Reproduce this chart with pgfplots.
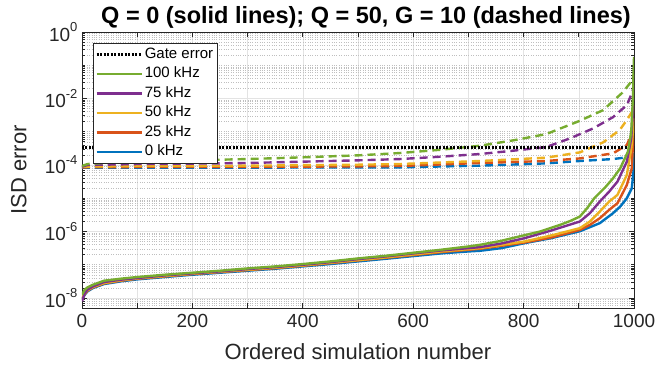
\documentclass[border=0pt]{standalone}
\usepackage{fontspec}
\setmainfont{Liberation Sans}
\usepackage{pgfplots}
\pgfplotsset{compat=1.18}
\definecolor{mblue}{rgb}{0,0.447,0.741}
\definecolor{morange}{rgb}{0.85,0.325,0.098}
\definecolor{myellow}{rgb}{0.929,0.694,0.125}
\definecolor{mpurple}{rgb}{0.494,0.184,0.556}
\definecolor{mgreen}{rgb}{0.466,0.674,0.188}
\definecolor{mtext}{rgb}{0.15,0.15,0.15}
\newcommand{\sci}[1]{10\raisebox{0.48em}{\fontsize{13}{13}\selectfont #1}}
\begin{document}
\begin{tikzpicture}
\begin{axis}[
  name=ax,
  scale only axis,
  width=552pt, height=276pt,
  xmin=0, xmax=1000,
  ymode=log, ymin=5e-9, ymax=1,
  xtick={0,100,...,1000},
  xticklabels={0,,200,,400,,600,,800,,1000},
  ytick={1e-8,1e-6,1e-4,1e-2,1},
  yticklabels={\sci{-8},\sci{-6},\sci{-4},\sci{-2},\sci{0}},
  minor ytick={6e-9,7e-9,8e-9,9e-9,
    2e-8,3e-8,4e-8,5e-8,6e-8,7e-8,8e-8,9e-8,1e-7,2e-7,3e-7,4e-7,5e-7,6e-7,7e-7,8e-7,9e-7,
    2e-6,3e-6,4e-6,5e-6,6e-6,7e-6,8e-6,9e-6,1e-5,2e-5,3e-5,4e-5,5e-5,6e-5,7e-5,8e-5,9e-5,
    2e-4,3e-4,4e-4,5e-4,6e-4,7e-4,8e-4,9e-4,1e-3,2e-3,3e-3,4e-3,5e-3,6e-3,7e-3,8e-3,9e-3,
    2e-2,3e-2,4e-2,5e-2,6e-2,7e-2,8e-2,9e-2,1e-1,2e-1,3e-1,4e-1,5e-1,6e-1,7e-1,8e-1,9e-1},
  grid=both,
  major grid style={gray!22, line width=0.6pt},
  minor grid style={gray!50, dotted, line width=0.5pt},
  axis line style={mtext, line width=0.8pt},
  every tick/.style={mtext, line width=0.8pt},
  major tick length=5pt, minor tick length=3pt,
  tick align=inside,
  tick label style={font=\fontsize{19}{19}\selectfont, text=mtext},
  xticklabel style={yshift=-3pt},
  yticklabel style={xshift=-1pt},
  xlabel={Ordered simulation number},
  ylabel={ISD error},
  label style={font=\fontsize{22}{22}\selectfont, text=mtext},
  xlabel style={at={(0.5,0)}, anchor=north, yshift=-32pt},
  ylabel style={at={(0,0.5)}, anchor=south, yshift=52pt},
  title={Q = 0 (solid lines); Q = 50, G = 10 (dashed lines)},
  title style={at={(0.5,1)}, anchor=south, inner sep=0pt, yshift=-3pt, xshift=8pt, font=\bfseries\fontsize{23.5}{23.5}\selectfont, text=black},
  legend image code/.code={\draw[#1] (0pt,0pt) -- (45pt,0pt);},
  legend cell align=left,
  legend style={at={(0,1)}, anchor=north west, xshift=11pt, yshift=-11pt,
    draw=mtext, line width=0.8pt, fill=white,
    font=\fontsize{15}{15}\selectfont, text=black,
    row sep=1.5pt, inner xsep=2pt, inner ysep=2pt,
    nodes={inner sep=2pt, text height=11pt, text depth=3pt}},
]
\addlegendimage{black, line width=2.4pt, dash pattern=on 2pt off 1.5pt}
\addlegendentry{Gate error}
\addlegendimage{mgreen, line width=2.4pt}
\addlegendentry{100 kHz}
\addlegendimage{mpurple, line width=2.4pt}
\addlegendentry{75 kHz}
\addlegendimage{myellow, line width=2.4pt}
\addlegendentry{50 kHz}
\addlegendimage{morange, line width=2.4pt}
\addlegendentry{25 kHz}
\addlegendimage{mblue, line width=2.4pt}
\addlegendentry{0 kHz}

% dashed lines (Q = 50, G = 10)
\addplot[forget plot, mblue, line width=2.4pt, dash pattern=on 8pt off 5pt] coordinates {
(0,8.32e-5) (100,8.32e-5) (300,8.32e-5) (500,8.51e-5) (576,8.51e-5) (721,9.55e-5) (841,1.12e-4) (902,1.32e-4) (962,1.51e-4) (987,1.70e-4) (1000,2.24e-4)};
\addplot[forget plot, morange, line width=2.4pt, dash pattern=on 8pt off 5pt] coordinates {
(0,8.51e-5) (100,8.71e-5) (300,8.71e-5) (500,9.12e-5) (576,9.33e-5) (721,1.15e-4) (841,1.32e-4) (902,1.58e-4) (962,2.24e-4) (987,3.98e-4) (996,8.91e-4) (1000,2.51e-3)};
\addplot[forget plot, myellow, line width=2.4pt, dash pattern=on 8pt off 5pt] coordinates {
(0,8.91e-5) (100,9.33e-5) (300,9.55e-5) (500,1.02e-4) (576,1.07e-4) (721,1.32e-4) (841,1.66e-4) (902,2.40e-4) (944,4.79e-4) (974,1.12e-3) (989,2.51e-3) (1000,5.01e-3)};
\addplot[forget plot, mpurple, line width=2.4pt, dash pattern=on 8pt off 5pt] coordinates {
(0,8.91e-5) (10,1.0e-4) (100,1.07e-4) (200,1.10e-4) (300,1.15e-4) (400,1.26e-4) (500,1.38e-4) (576,1.51e-4) (650,1.78e-4) (721,2.14e-4) (781,2.69e-4) (841,3.47e-4) (884,6.31e-4) (926,1.26e-3) (962,2.75e-3) (987,6.31e-3) (997,1.55e-2) (1000,2.51e-2)};
\addplot[forget plot, mgreen, line width=2.4pt, dash pattern=on 8pt off 5pt] coordinates {
(0,9.33e-5) (10,1.07e-4) (50,1.17e-4) (100,1.26e-4) (200,1.38e-4) (300,1.51e-4) (400,1.70e-4) (500,1.95e-4) (576,2.29e-4) (650,2.88e-4) (721,3.80e-4) (781,5.50e-4) (841,8.51e-4) (902,2.14e-3) (944,4.47e-3) (980,1.55e-2) (997,3.55e-2) (1000,5.62e-2)};

% gate error
\addplot[forget plot, black, line width=2.4pt, dash pattern=on 2pt off 1.5pt] coordinates {(0,3.4e-4) (1000,3.4e-4)};

% solid lines (Q = 0)
\addplot[forget plot, mblue, line width=2.4pt] coordinates {
(0,8.91e-9) (5,1.26e-8) (10,1.58e-8) (20,2.0e-8) (40,2.63e-8) (70,3.16e-8) (100,3.63e-8) (150,4.27e-8) (200,5.01e-8) (250,5.75e-8) (300,6.61e-8) (350,7.59e-8) (400,8.91e-8) (450,1.05e-7) (500,1.26e-7) (550,1.51e-7) (600,1.82e-7) (650,2.19e-7) (700,2.51e-7) (721,2.63e-7) (760,3.16e-7) (802,4.47e-7) (850,6.31e-7) (902,1.02e-6) (938,1.78e-6) (962,3.55e-6) (975,5.62e-6) (987,1.0e-5) (996,2.0e-5) (999,6.31e-5) (1000,2.0e-4)};
\addplot[forget plot, morange, line width=2.4pt] coordinates {
(0,8.91e-9) (5,1.32e-8) (10,1.66e-8) (20,2.09e-8) (40,2.75e-8) (70,3.31e-8) (100,3.80e-8) (150,4.47e-8) (200,5.25e-8) (250,6.03e-8) (300,6.92e-8) (350,7.94e-8) (400,9.33e-8) (450,1.12e-7) (500,1.35e-7) (550,1.62e-7) (600,1.95e-7) (650,2.40e-7) (700,2.82e-7) (721,3.02e-7) (760,3.72e-7) (802,4.68e-7) (850,6.61e-7) (902,1.12e-6) (920,1.58e-6) (938,2.51e-6) (955,4.47e-6) (970,7.08e-6) (987,2.51e-5) (996,7.94e-5) (999,1.0e-3) (1000,6.31e-3)};
\addplot[forget plot, myellow, line width=2.4pt] coordinates {
(0,1.0e-8) (5,1.41e-8) (10,1.70e-8) (20,2.14e-8) (40,2.82e-8) (70,3.39e-8) (100,3.89e-8) (150,4.57e-8) (200,5.37e-8) (250,6.17e-8) (300,7.08e-8) (350,8.13e-8) (400,9.55e-8) (450,1.15e-7) (500,1.38e-7) (550,1.66e-7) (600,2.04e-7) (650,2.51e-7) (700,2.95e-7) (721,3.16e-7) (760,3.98e-7) (802,5.01e-7) (850,7.59e-7) (902,1.26e-6) (920,2.0e-6) (938,3.98e-6) (955,7.94e-6) (970,1.26e-5) (987,5.01e-5) (995,3.16e-4) (998,1.0e-3) (1000,2.51e-3)};
\addplot[forget plot, mpurple, line width=2.4pt] coordinates {
(0,7.94e-9) (5,1.41e-8) (10,1.78e-8) (20,2.24e-8) (40,3.02e-8) (70,3.55e-8) (100,3.98e-8) (150,4.79e-8) (200,5.50e-8) (250,6.31e-8) (300,7.41e-8) (350,8.51e-8) (400,1.0e-7) (450,1.20e-7) (500,1.48e-7) (550,1.78e-7) (600,2.19e-7) (650,2.69e-7) (700,3.16e-7) (721,3.39e-7) (760,4.37e-7) (802,6.31e-7) (850,1.07e-6) (902,2.0e-6) (920,3.55e-6) (938,7.94e-6) (955,1.58e-5) (970,3.16e-5) (987,1.26e-4) (995,6.31e-4) (998,3.98e-3) (1000,5.01e-2)};
\addplot[forget plot, mgreen, line width=2.4pt] coordinates {
(0,1.26e-8) (5,1.78e-8) (10,2.09e-8) (20,2.51e-8) (40,3.31e-8) (70,3.80e-8) (100,4.27e-8) (150,5.01e-8) (200,5.75e-8) (250,6.61e-8) (300,7.76e-8) (350,8.91e-8) (400,1.05e-7) (450,1.26e-7) (500,1.55e-7) (550,1.86e-7) (600,2.29e-7) (650,2.82e-7) (700,3.55e-7) (721,3.98e-7) (757,5.13e-7) (802,7.76e-7) (830,1.0e-6) (866,1.58e-6) (885,2.09e-6) (902,2.82e-6) (915,5.01e-6) (928,1.0e-5) (949,2.24e-5) (962,3.98e-5) (975,7.94e-5) (989,2.51e-4) (995,1.0e-3) (998,1.0e-2) (1000,1.78e-1)};
\end{axis}
\pgfresetboundingbox
\path ([shift={(-82pt,-67pt)}]ax.south west) rectangle ([shift={(24pt,32pt)}]ax.north east);
\end{tikzpicture}
\end{document}
